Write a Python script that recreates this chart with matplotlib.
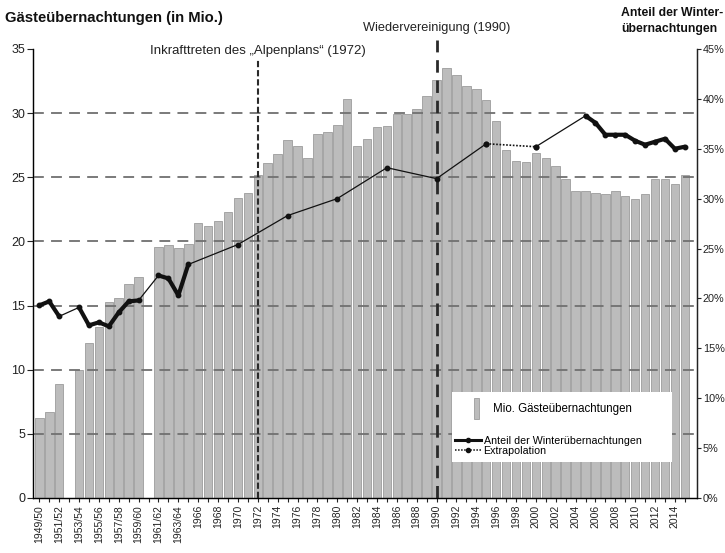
import matplotlib
matplotlib.use('Agg')
import matplotlib.pyplot as plt
import numpy as np
from matplotlib.lines import Line2D
from matplotlib.patches import Patch, Rectangle

plt.rcParams['font.family'] = ['Liberation Sans', 'DejaVu Sans']

# ---------------- data ----------------
seasons = ['1949/50', '1950/51', '1951/52', '1952/53', '1953/54', '1954/55',
           '1955/56', '1956/57', '1957/58', '1958/59', '1959/60', '1960/61',
           '1961/62', '1962/63', '1963/64', '1965'] + [str(y) for y in range(1966, 2016)]

# guest overnight stays (million), None = no value
overnights = [6.2, 6.7, 8.9, None, 10.0, 12.1, 13.3, 15.3, 15.6, 16.7, 17.2, None,
              19.6, 19.7, 19.5, 19.8,
              21.4, 21.2, 21.6, 22.3, 23.4, 23.8, 25.2, 26.1, 26.8, 27.9,
              27.4, 26.5, 28.4, 28.5, 29.1, 31.1, 27.4, 28.0, 28.9, 29.0,
              29.9, 29.9, 30.3, 31.3, 32.6, 33.5, 33.0, 32.1, 31.9, 31.0,
              29.4, 27.1, 26.3, 26.2, 26.9, 26.5, 25.9, 24.9, 23.9, 23.9,
              23.8, 23.7, 23.9, 23.5, 23.3, 23.7, 24.9, 24.9, 24.5, 25.2]

# share of winter overnight stays (%), None = no value
winter_share = [19.3, 19.7, 18.2, None, 19.1, 17.3, 17.6, 17.2, 18.6, 19.7, 19.8, None,
                22.3, 22.0, 20.3, 23.4,
                None, None, None, None, 25.4, None, None, None, None, 28.3,
                None, None, None, None, 30.0, None, None, None, None, 33.1,
                None, None, None, None, 32.0, None, None, None, None, 35.5,
                None, None, None, None, 35.2, None, None, None, None, 38.3,
                37.6, 36.4, 36.4, 36.4, 35.8, 35.4, 35.7, 36.0, 35.0, 35.2]

extrapolation_span = ('1995', '2000')   # segment drawn as extrapolation

left_ticks = [0, 5, 10, 15, 20, 25, 30, 35]
right_ticks = [0, 5, 10, 15, 20, 25, 30, 35, 40, 45]
events = [('1972', 'Inkrafttreten des \u201eAlpenplans\u201c (1972)'),
          ('1990', 'Wiedervereinigung (1990)')]

# ---------------- figure ----------------
fig = plt.figure(figsize=(7.25, 5.53), dpi=100)
ax = fig.add_axes([0.046, 0.0995, 0.915, 0.812])

x = np.arange(len(seasons))
bx = [i for i, v in enumerate(overnights) if v is not None]
bv = [v for v in overnights if v is not None]
ax.bar(bx, bv, width=0.86, color='#bcbcbc', edgecolor='#9c9c9c', linewidth=0.6, zorder=2)

for v in left_ticks[1:-1]:
    ax.axhline(v, color='#707070', lw=1.3, ls=(0, (6, 4)), zorder=3)

ax.set_xlim(-0.6, 66.2)
ax.set_ylim(0, 35)

i72 = seasons.index(events[0][0])
i90 = seasons.index(events[1][0])
ax.axvline(i72, ymin=0, ymax=0.975, color='#2a2a2a', lw=1.5, ls=(0, (3, 1.4)), zorder=4)
ax.axvline(i90, ymin=0, ymax=1.02, color='#2a2a2a', lw=2.0, ls=(0, (4.5, 2.8)), zorder=4,
           clip_on=False)
ax.text(i72, 34.85, events[0][1], ha='center', va='center', fontsize=9.5, color='#222', zorder=6)
ax.text(i90, 36.6, events[1][1], ha='center', va='center', fontsize=9.2, color='#222',
        clip_on=False)

ax.set_xticks(x)
ax.set_xticklabels([s if i % 2 == 0 else '' for i, s in enumerate(seasons)],
                   rotation=90, fontsize=7.5)
ax.tick_params(axis='x', length=3, width=0.8, pad=2, colors='#222')
ax.set_yticks(left_ticks)
ax.set_yticklabels([str(t) for t in left_ticks], fontsize=9)
ax.tick_params(axis='y', length=4, width=0.8, pad=2, colors='#222')
for s in ['left', 'bottom', 'right']:
    ax.spines[s].set_color('#222')
    ax.spines[s].set_linewidth(1.0)
ax.spines['top'].set_visible(False)

ax2 = ax.twinx()
ax2.set_ylim(0, 45)
ax2.set_yticks(right_ticks)
ax2.set_yticklabels([f'{t}%' for t in right_ticks], fontsize=7.8)
ax2.tick_params(axis='y', length=3, width=0.8, pad=1.5, colors='#222')
ax2.spines['top'].set_visible(False)
ax2.spines['right'].set_color('#222')

share = np.array([np.nan if v is None else v for v in winter_share])
valid = ~np.isnan(share)
e0 = seasons.index(extrapolation_span[0])
e1 = seasons.index(extrapolation_span[1])
m1 = valid & (x <= e0)
m2 = valid & (x >= e1)
for m in (m1, m2):
    ax2.plot(x[m], share[m], color='#111', lw=0.9, marker='o', ms=3.2, zorder=5)
ax2.plot([e0, e1], [share[e0], share[e1]], color='#111', lw=1.2, ls=(0, (1, 1)),
         marker='o', ms=3.2, zorder=5)
ax2.plot(x, share, color='#111', lw=3.0, solid_capstyle='round', solid_joinstyle='round',
         zorder=6)

# legend
ax2.add_patch(Rectangle((0.631, 0.080), 0.332, 0.156, transform=ax2.transAxes,
                        facecolor='white', edgecolor='none', zorder=7))
h1 = [Patch(facecolor='#bcbcbc', edgecolor='#9c9c9c', lw=0.6)]
leg1 = ax2.legend(h1, ['Mio. G\u00e4ste\u00fcbernachtungen'], loc='center left',
                  bbox_to_anchor=(0.655, 0.200), frameon=False, fontsize=8.3,
                  handlelength=0.5, handleheight=2.4, handletextpad=1.2, borderpad=0)
leg1.set_zorder(8)
ax2.add_artist(leg1)
h2 = [Line2D([], [], color='#111', lw=2.2, marker='o', ms=3),
      Line2D([], [], color='#111', lw=1.1, ls=(0, (1, 1)), marker='o', ms=3)]
leg2 = ax2.legend(h2, ['Anteil der Winter\u00fcbernachtungen', 'Extrapolation'],
                  loc='center left', bbox_to_anchor=(0.627, 0.116), frameon=False,
                  fontsize=7.7, handlelength=2.5, handletextpad=0.2, labelspacing=0.0,
                  borderpad=0)
leg2.set_zorder(8)

fig.text(5 / 725, 1 - 18 / 553, 'G\u00e4ste\u00fcbernachtungen (in Mio.)', fontsize=10.7,
         fontweight='bold', ha='left', va='center', color='#111')
fig.text(723 / 725, 1 - 21 / 553, 'Anteil der Winter-\n\u00fcbernachtungen',
         fontsize=8.8, fontweight='bold', ha='right', va='center', color='#111',
         linespacing=1.4, multialignment='left')

fig.savefig('out.png', dpi=100)
